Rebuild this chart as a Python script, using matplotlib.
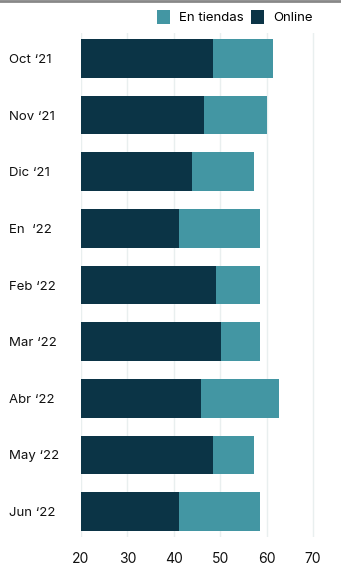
import matplotlib.pyplot as plt
from matplotlib.patches import Patch
from matplotlib.lines import Line2D
import numpy as np

plt.rcParams['font.family'] = ['Inter', 'DejaVu Sans']

months = ['Oct ‘21', 'Nov ‘21', 'Dic ‘21', 'En  ‘22', 'Feb ‘22',
          'Mar ‘22', 'Abr ‘22', 'May ‘22', 'Jun ‘22']
online = [48.4, 46.5, 43.9, 41.0, 49.1, 50.2, 45.9, 48.4, 41.0]
tiendas = [13.0, 13.6, 13.4, 17.6, 9.5, 8.4, 16.8, 8.9, 17.6]
xticks = [20, 30, 40, 50, 60, 70]

dark = '#0B3446'
teal = '#4396A3'

fig = plt.figure(figsize=(3.41, 5.79), dpi=100)
ax = fig.add_axes([81 / 341, 1 - 537 / 579, 260 / 341, (537 - 33) / 579])

y = np.arange(len(months))
ax.barh(y, online, height=0.68, color=dark, zorder=2)
ax.barh(y, tiendas, left=online, height=0.68, color=teal, zorder=2)

ax.set_xlim(20, 76)
ax.set_ylim(len(months) - 0.55, -0.45)
ax.set_xticks(xticks)
ax.set_yticks(y)
ax.set_yticklabels(months)
ax.grid(axis='x', color='#E9EFEF', linewidth=1, zorder=0)
ax.set_axisbelow(True)
for s in ax.spines.values():
    s.set_visible(False)
ax.tick_params(axis='both', length=0, colors='#111111')
ax.tick_params(axis='x', pad=10.5, labelsize=10)
# labels are left aligned at the figure edge
ax.tick_params(axis='y', pad=72 * 72 / 100, labelsize=9.5)
for lab in ax.get_yticklabels():
    lab.set_horizontalalignment('left')

handles = [Patch(facecolor=teal, label='En tiendas'),
           Patch(facecolor=dark, label='Online')]
fig.legend(handles=handles, loc='upper right', bbox_to_anchor=(0.953, 1.004),
           ncol=2, frameon=False, fontsize=9.5, handlelength=1.0,
           handleheight=1.35, handletextpad=0.7, columnspacing=0.55)

fig.add_artist(Line2D([0, 1], [0.998, 0.998], color='#888888', linewidth=2,
                      transform=fig.transFigure))

fig.savefig('out.png', dpi=100)
